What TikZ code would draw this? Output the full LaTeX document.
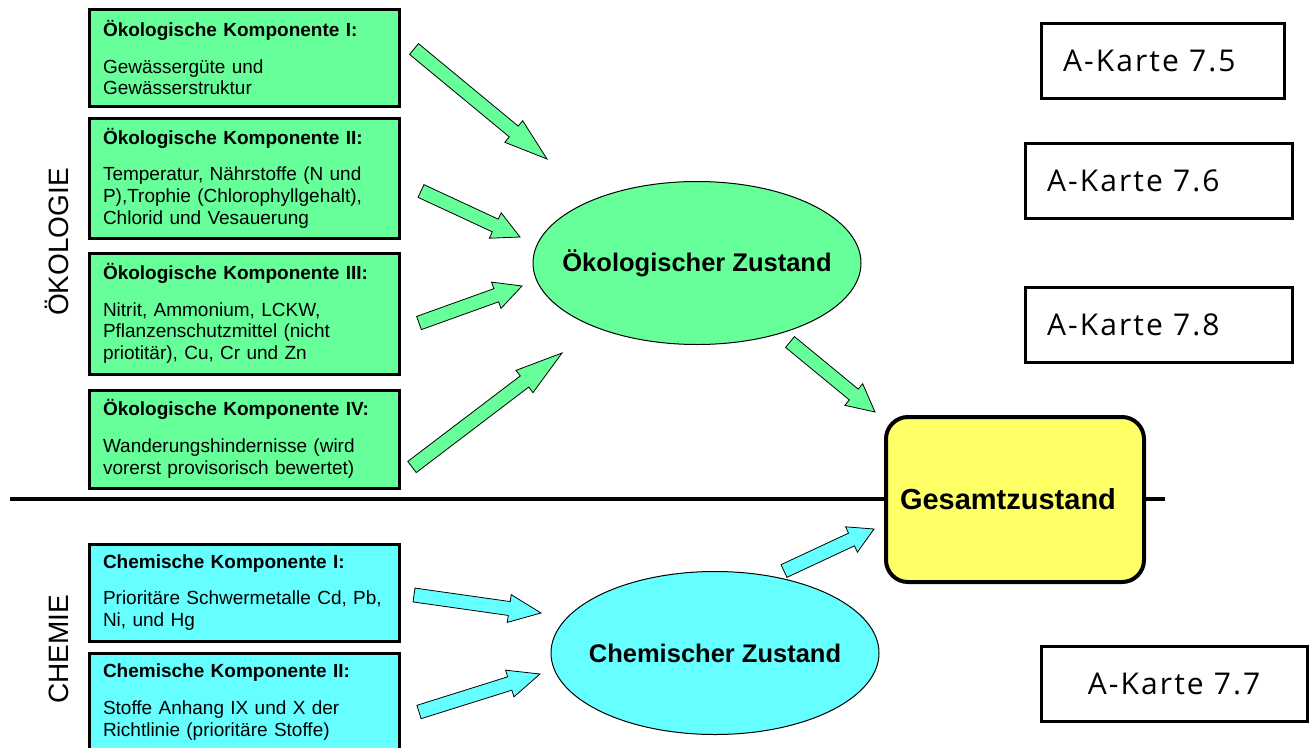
\documentclass[tikz,border=0pt]{standalone}
\usepackage{fontspec}
\setmainfont{Liberation Sans}
\newfontfamily\kartefont[LetterSpace=7]{Open Sans}
\usetikzlibrary{shapes.geometric,calc}
\definecolor{oekogreen}{HTML}{66FF99}
\definecolor{chemcyan}{HTML}{66FFFF}
\definecolor{gesamtgelb}{HTML}{FFFF66}
\newcommand{\kopf}[1]{\textbf{#1}\\[15pt]}
\newcommand{\blockarrow}[3]{%
  \path ($(#3)!0.25!(#2)$) coordinate (hb);
  \draw[#1] ($(#2)!7pt!90:(#3)$) -- ($(hb)!7pt!90:(#3)$) -- ($(hb)!14pt!90:(#3)$)
    -- (#3) -- ($(hb)!14pt!-90:(#3)$) -- ($(hb)!7pt!-90:(#3)$)
    -- ($(#2)!7pt!-90:(#3)$) -- cycle;
}
\tikzset{
  komp/.style={draw, line width=3pt, text width=282pt, inner xsep=14pt, inner ysep=0pt,
    minimum height=#1, align=left, font=\fontsize{19}{21.7}\selectfont},
  oekokomp/.style={komp=#1, fill=oekogreen},
  chemkomp/.style={komp=#1, fill=chemcyan},
  zustand/.style={ellipse, draw, line width=1pt, inner xsep=-20pt, inner ysep=0pt,
    minimum width=328pt, minimum height=163pt, font=\bfseries\fontsize{25.5}{30}\selectfont},
  karte/.style={draw, line width=3pt, minimum height=75pt, inner xsep=22pt,
    font=\kartefont\fontsize{30}{36}\selectfont},
  pfeil/.style={draw=black, line width=0.8pt, fill=#1, line join=miter}
}
\begin{document}
\begin{tikzpicture}[x=1pt, y=-1pt]
    \useasboundingbox (0,0) rectangle (1314,747);

    \coordinate (trennL) at (10,499);
    \coordinate (trennR) at (1165,499);
    \draw[line width=4pt] (trennL) -- (trennR);

    \node[rotate=90, font=\fontsize{28}{32}\selectfont] (oekolabel) at (57,242) {ÖKOLOGIE};
    \node[rotate=90, font=\fontsize{28}{32}\selectfont] (chemlabel) at (59,649) {CHEMIE};

    \node[oekokomp=97pt] (k1) at (244,57.5) {\kopf{Ökologische Komponente I:}Gewässergüte und\\Gewässerstruktur};
    \node[oekokomp=120pt] (k2) at (244,178) {\kopf{Ökologische Komponente II:}Temperatur, Nährstoffe (N und\\P),Trophie (Chlorophyllgehalt),\\Chlorid und Vesauerung};
    \node[oekokomp=121pt] (k3) at (244,313.5) {\kopf{Ökologische Komponente III:}Nitrit, Ammonium, LCKW,\\Pflanzenschutzmittel (nicht\\priotitär), Cu, Cr und Zn};
    \node[oekokomp=98pt] (k4) at (244,439) {\kopf{Ökologische Komponente IV:}Wanderungshindernisse (wird\\vorerst provisorisch bewertet)};
    \node[chemkomp=97pt] (c1) at (244,592.5) {\kopf{Chemische Komponente I:}Prioritäre Schwermetalle Cd, Pb,\\Ni, und Hg};
    \node[chemkomp=98pt] (c2) at (244,702) {\kopf{Chemische Komponente II:}Stoffe Anhang IX und X der\\Richtlinie (prioritäre Stoffe)};

    \node[zustand, fill=oekogreen] (oeko) at (697,263) {Ökologischer Zustand};
    \node[zustand, fill=chemcyan] (chem) at (715,653) {Chemischer Zustand};
    \node[draw, line width=4pt, rounded corners=22pt, fill=gesamtgelb, minimum width=258pt,
      minimum height=165pt, text width=230pt, inner xsep=14pt, align=left,
      font=\bfseries\fontsize{29}{34}\selectfont] (gesamt) at (1015,499.5) {Gesamtzustand};

    \node[karte, text width=199pt, align=left] (ak75) at (1162.5,60.5) {A-Karte 7.5};
    \node[karte, text width=223pt, align=left] (ak76) at (1158.5,180.5) {A-Karte 7.6};
    \node[karte, text width=223pt, align=left] (ak78) at (1158.5,324.5) {A-Karte 7.8};
    \node[karte, text width=222pt, align=center] (ak77) at (1174,684) {A-Karte 7.7};

    \coordinate (k1s) at (414,49);   \coordinate (k1e) at (547,159);
    \coordinate (k2s) at (421,191);  \coordinate (k2e) at (520,237);
    \coordinate (k3s) at (419,323);  \coordinate (k3e) at (522,286);
    \coordinate (k4s) at (412,467);  \coordinate (k4e) at (562,353);
    \coordinate (oekos) at (790,342); \coordinate (oekoe) at (875,412);
    \coordinate (c1s) at (414,595);  \coordinate (c1e) at (541,613);
    \coordinate (c2s) at (419,712);  \coordinate (c2e) at (540,674);
    \coordinate (chems) at (784,571); \coordinate (cheme) at (874,529);

    \blockarrow{pfeil=oekogreen}{k1s}{k1e}
    \blockarrow{pfeil=oekogreen}{k2s}{k2e}
    \blockarrow{pfeil=oekogreen}{k3s}{k3e}
    \blockarrow{pfeil=oekogreen}{k4s}{k4e}
    \blockarrow{pfeil=oekogreen}{oekos}{oekoe}
    \blockarrow{pfeil=chemcyan}{c1s}{c1e}
    \blockarrow{pfeil=chemcyan}{c2s}{c2e}
    \blockarrow{pfeil=chemcyan}{chems}{cheme}
\end{tikzpicture}
\end{document}
